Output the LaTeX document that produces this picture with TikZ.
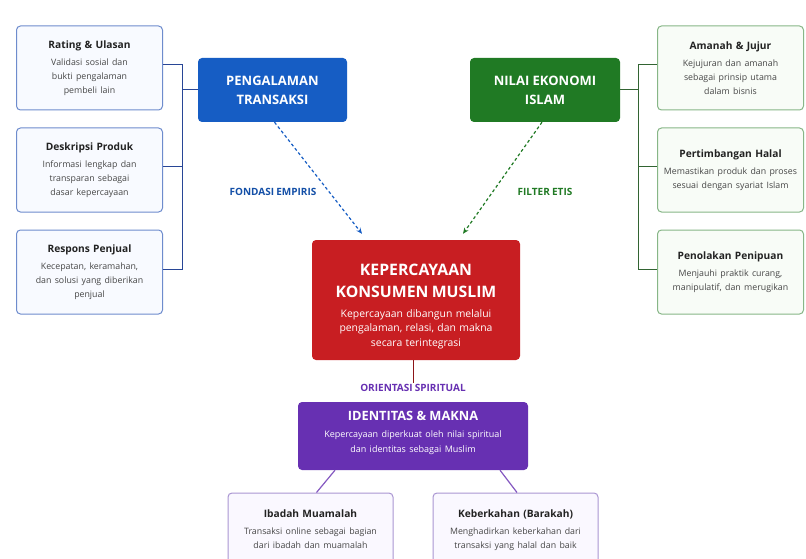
\documentclass[tikz,border=0pt]{standalone}
\usepackage{fontspec}
\setmainfont[WordSpace=0.85]{Open Sans}
\usetikzlibrary{arrows.meta,calc}
\definecolor{cblue}{RGB}{22,93,196}
\definecolor{cgreen}{RGB}{32,122,36}
\definecolor{cred}{RGB}{200,30,34}
\definecolor{cpurple}{RGB}{103,48,178}
\definecolor{lbord}{RGB}{110,140,205}
\definecolor{lfill}{RGB}{248,250,255}
\definecolor{lline}{RGB}{40,70,150}
\definecolor{rbord}{RGB}{135,182,135}
\definecolor{rfill}{RGB}{248,252,247}
\definecolor{rline}{RGB}{50,100,50}
\definecolor{bbord}{RGB}{170,150,210}
\definecolor{bfill}{RGB}{250,248,255}
\definecolor{tdark}{RGB}{34,34,34}
\definecolor{tbody}{RGB}{70,70,70}
\newcommand\boxcontent[2]{{\fontsize{10.2}{12}\selectfont\bfseries\color{tdark}#1\par}\vspace{3pt}{\fontsize{8.8}{13.8}\selectfont\color{tbody}#2\par}}
\begin{document}
\begin{tikzpicture}[x=1pt,y=-1pt,
  sidebox/.style={rounded corners=4pt,line width=1pt,minimum width=146pt,minimum height=84pt,text width=146pt,align=center,inner sep=0pt},
  leftbox/.style={sidebox,draw=lbord,fill=lfill},
  rightbox/.style={sidebox,draw=rbord,fill=rfill},
  bottombox/.style={sidebox,draw=bbord,fill=bfill,minimum width=165pt,minimum height=84pt,text width=165pt},
  mainbox/.style={rounded corners=4pt,text=white,align=center,inner sep=0pt,font=\bfseries},
  tag/.style={font=\fontsize{10}{11}\selectfont\bfseries,inner sep=1pt},
  lconn/.style={draw=lline,line width=1pt},
  rconn/.style={draw=rline,line width=1pt},
  pconn/.style={draw=cpurple!80,line width=1.2pt}
]
\useasboundingbox[fill=white] (0,0) rectangle (806,559);

% left boxes
\node[leftbox] (rating) at (89.5,68) {\boxcontent{Rating \& Ulasan}{Validasi sosial dan\\ bukti pengalaman\\ pembeli lain}};
\node[leftbox] (deskripsi) at (89.5,170) {\boxcontent{Deskripsi Produk}{Informasi lengkap dan\\ transparan sebagai\\ dasar kepercayaan}};
\node[leftbox] (respons) at (89.5,272) {\boxcontent{Respons Penjual}{Kecepatan, keramahan,\\ dan solusi yang diberikan\\ penjual}};

% right boxes
\node[rightbox] (amanah) at (730.5,68) {\boxcontent{Amanah \& Jujur}{Kejujuran dan amanah\\ sebagai prinsip utama\\ dalam bisnis}};
\node[rightbox] (halal) at (730.5,170) {\boxcontent{Pertimbangan Halal}{Memastikan produk dan proses\\ sesuai dengan syariat Islam}};
\node[rightbox] (penolakan) at (730.5,272) {\boxcontent{Penolakan Penipuan}{Menjauhi praktik curang,\\ manipulatif, dan merugikan}};

% top main boxes
\node[mainbox,fill=cblue,minimum width=149pt,minimum height=64pt,text width=149pt] (peng) at (272.5,90) {{\fontsize{13}{19}\selectfont PENGALAMAN\\TRANSAKSI\par}};
\node[mainbox,fill=cgreen,minimum width=150pt,minimum height=64pt,text width=150pt] (nilai) at (545,90) {{\fontsize{13}{19}\selectfont NILAI EKONOMI\\ISLAM\par}};

% central box
\node[mainbox,fill=cred,minimum width=208pt,minimum height=120pt,text width=208pt] (kep) at (416,300) {\par\vspace*{2pt}{\fontsize{15.8}{22}\selectfont KEPERCAYAAN\\KONSUMEN MUSLIM\par}\vspace{5pt}{\fontsize{10.4}{14.5}\selectfont\mdseries Kepercayaan dibangun melalui\\ pengalaman, relasi, dan makna\\ secara terintegrasi\par}};

% identity box
\node[mainbox,fill=cpurple,minimum width=230pt,minimum height=68pt,text width=230pt] (ident) at (413,436) {{\fontsize{12.8}{14}\selectfont IDENTITAS \& MAKNA\par}\vspace{2pt}{\fontsize{9}{15}\selectfont\mdseries Kepercayaan diperkuat oleh nilai spiritual\\ dan identitas sebagai Muslim\par}\vspace{7pt}};

% bottom boxes
\node[bottombox] (ibadah) at (310.5,535) {\boxcontent{Ibadah Muamalah}{Transaksi online sebagai bagian\\ dari ibadah dan muamalah}\vspace{0pt}\hbox{}};
\node[bottombox] (berkah) at (515.5,535) {\boxcontent{Keberkahan (Barakah)}{Menghadirkan keberkahan dari\\ transaksi yang halal dan baik}\vspace{0pt}\hbox{}};

% tags
\node[tag,text=cblue!85!black] (tfond) at (273,192) {FONDASI EMPIRIS};
\node[tag,text=cgreen] (tfilt) at (545,192) {FILTER ETIS};
\node[tag,text=cpurple] (torient) at (413,388) {ORIENTASI SPIRITUAL};

% bracket connectors left
\coordinate (lbx) at (182,0);
\draw[lconn] ($(rating.east)+(0,-3)$) -- ($(rating.east -| lbx)+(0,-3)$) -- ($(respons.east -| lbx)+(0,-3)$) -- ($(respons.east)+(0,-3)$);
\draw[lconn] ($(deskripsi.east)+(0,-3)$) -- ($(deskripsi.east -| lbx)+(0,-3)$);
\draw[lconn] (peng.west -| lbx) -- (peng.west);

% bracket connectors right
\coordinate (rbx) at (638,0);
\draw[rconn] ($(amanah.west)+(0,-3)$) -- ($(amanah.west -| rbx)+(0,-3)$) -- ($(penolakan.west -| rbx)+(0,-3)$) -- ($(penolakan.west)+(0,-3)$);
\draw[rconn] ($(halal.west)+(0,-3)$) -- ($(halal.west -| rbx)+(0,-3)$);
\draw[rconn] (nilai.east) -- (nilai.east -| rbx);

% dashed arrows
\coordinate (kepL) at ($(kep.north)+(-54,-6)$);
\coordinate (kepR) at ($(kep.north)+(47,-6)$);
\draw[draw=cblue,line width=1.2pt,dash pattern=on 3pt off 2.5pt,-{Stealth[length=6pt,width=5pt]}] ($(peng.south)+(2,0)$) -- (kepL);
\draw[draw=cgreen,line width=1.2pt,dash pattern=on 3pt off 2.5pt,-{Stealth[length=6pt,width=5pt]}] ($(nilai.south)+(-3,0)$) -- (kepR);

% center vertical connectors
\draw[draw=cred!70!black,line width=1pt] (kep.south -| torient) -- (torient.north);
\draw[pconn] ($(ident.south)+(-78,0)$) -- ($(ibadah.north)+(6,0)$);
\draw[pconn] ($(ident.south)+(87,0)$) -- ($(berkah.north)+(1.5,0)$);
\end{tikzpicture}
\end{document}
